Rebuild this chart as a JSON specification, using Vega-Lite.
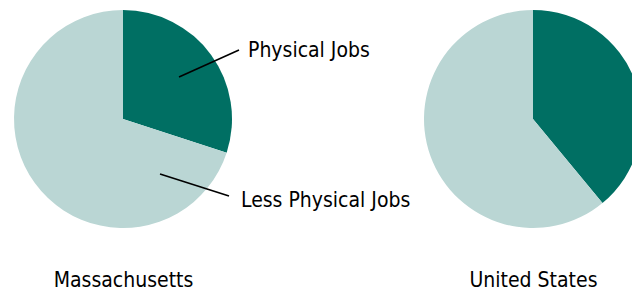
{
  "$schema": "https://vega.github.io/schema/vega-lite/v6.json",
  "width": 632,
  "height": 238,
  "padding": 0,
  "autosize": {"type": "pad"},
  "background": "white",
  "config": {"view": {"stroke": null}, "font": "DejaVu Sans Condensed, sans-serif"},
  "data": {
    "values": [
      {"region": "Massachusetts", "category": "Physical Jobs", "value": 30},
      {"region": "Massachusetts", "category": "Less Physical Jobs", "value": 70},
      {"region": "United States", "category": "Physical Jobs", "value": 39},
      {"region": "United States", "category": "Less Physical Jobs", "value": 61}
    ]
  },
  "encoding": {
    "x": {
      "field": "region",
      "type": "nominal",
      "scale": {"type": "point", "domain": ["Massachusetts", "United States"], "range": [123, 533], "padding": 0},
      "axis": {
        "title": null,
        "domain": false,
        "ticks": false,
        "grid": false,
        "labelFont": "DejaVu Sans Condensed, sans-serif",
        "labelFontSize": 21,
        "labelColor": "#000000",
        "labelPadding": 31,
        "labelAngle": 0
      }
    }
  },
  "layer": [
    {
      "transform": [
        {"stack": "value", "groupby": ["region"], "sort": [{"field": "category", "order": "descending"}], "as": ["v0", "v1"]}
      ],
      "mark": {"type": "arc", "radius": 109, "stroke": null},
      "encoding": {
        "theta": {"field": "v0", "type": "quantitative", "scale": {"domain": [0, 100]}},
        "theta2": {"field": "v1"},
        "color": {
          "field": "category",
          "type": "nominal",
          "scale": {"domain": ["Physical Jobs", "Less Physical Jobs"], "range": ["#006f63", "#bad6d4"]},
          "legend": null
        }
      }
    },
    {
      "data": {"values": [{"region": "Massachusetts", "label": "Physical Jobs"}]},
      "mark": {"type": "point", "shape": "M56,-42L116,-69", "size": 4, "filled": false, "stroke": "#000000", "strokeWidth": 1.6, "opacity": 1}
    },
    {
      "data": {"values": [{"region": "Massachusetts", "label": "Less Physical Jobs"}]},
      "mark": {"type": "point", "shape": "M37,55L106,77", "size": 4, "filled": false, "stroke": "#000000", "strokeWidth": 1.6, "opacity": 1}
    },
    {
      "data": {"values": [{"region": "Massachusetts", "label": "Physical Jobs"}]},
      "mark": {"type": "text", "align": "left", "baseline": "alphabetic", "dx": 125, "dy": -62, "fontSize": 21, "font": "DejaVu Sans Condensed, sans-serif", "color": "#000000"},
      "encoding": {"text": {"field": "label"}}
    },
    {
      "data": {"values": [{"region": "Massachusetts", "label": "Less Physical Jobs"}]},
      "mark": {"type": "text", "align": "left", "baseline": "alphabetic", "dx": 118, "dy": 88, "fontSize": 21, "font": "DejaVu Sans Condensed, sans-serif", "color": "#000000"},
      "encoding": {"text": {"field": "label"}}
    }
  ]
}
